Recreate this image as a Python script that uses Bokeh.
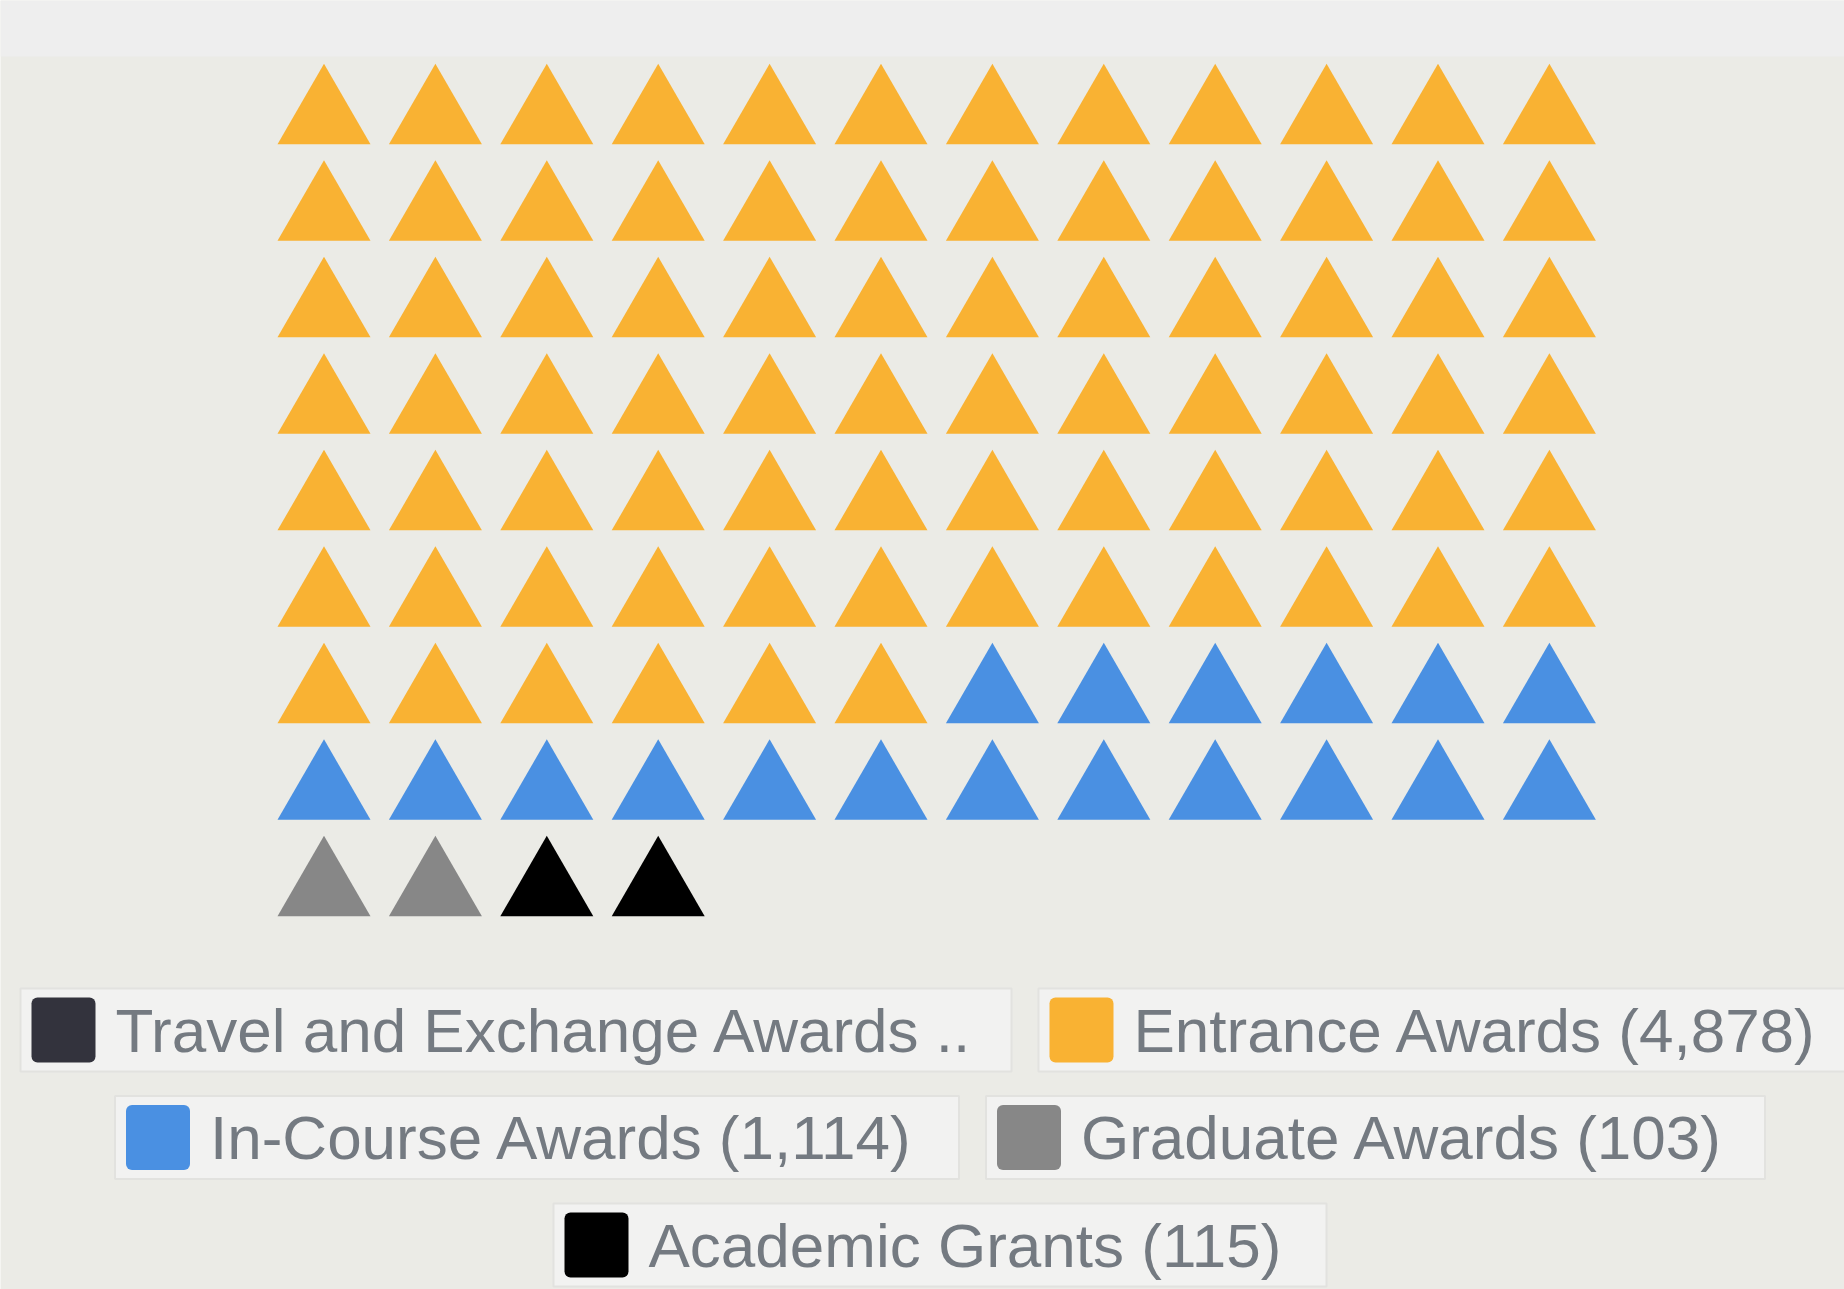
from bokeh.plotting import figure
from bokeh.models import Range1d, ColumnDataSource
from bokeh.core.properties import value
from bokeh.embed import file_html
from bokeh.resources import INLINE

# ---- data ----
categories = ["Travel and Exchange Awards", "Entrance Awards", "In-Course Awards",
              "Graduate Awards", "Academic Grants"]
legend_labels = ["Travel and Exchange Awards ..", "Entrance Awards (4,878)",
                 "In-Course Awards (1,114)", "Graduate Awards (103)", "Academic Grants (115)"]
award_counts = [None, 4878, 1114, 103, 115]
icon_counts = [0, 78, 18, 2, 2]
colors = ["#33333d", "#f9b233", "#4a90e2", "#878787", "#000000"]

# ---- layout (pixel space of the page) ----
W, H = 1844, 1289
OFF = 0
N_COLS = 12
X0, DX = 323.5, 111.4
Y0, DY = 117.0, 96.5
TRI_SIZE = 93

BG = "#ebebe6"
TOP_BG = "#eeeeee"
TEXT_COLOR = "#747a81"
BOX_FILL = "#f2f2f1"
BOX_LINE = "#e2e2df"

p = figure(width=W, height=H, output_backend="svg", toolbar_location=None,
           x_range=Range1d(OFF, OFF + W), y_range=Range1d(OFF + H, OFF),
           min_border=0, background_fill_color=BG, border_fill_color=BG)
p.axis.visible = False
p.grid.visible = False
p.outline_line_color = None

# lighter strip at the top
p.quad(left=[OFF], right=[OFF + W], top=[OFF], bottom=[56], fill_color=TOP_BG, line_color=None)

# ---- waffle of triangles ----
xs, ys, cs = [], [], []
idx = 0
for cat_i, n in enumerate(icon_counts):
    for _ in range(n):
        r, c = divmod(idx, N_COLS)
        xs.append(X0 + c * DX)
        ys.append(Y0 + r * DY)
        cs.append(colors[cat_i])
        idx += 1
src = ColumnDataSource(dict(x=xs, y=ys, color=cs))
p.scatter("x", "y", source=src, marker="triangle", size=TRI_SIZE,
          fill_color="color", line_color=None)

# ---- legend (flow of boxed items, centred rows) ----
legend_rows = [[0, 1], [2, 3], [4]]
box_widths = [991, 821, 844, 779, 773]
ROW_TOP0, ROW_PITCH, BOX_H = 988, 107.5, 83
CENTER_X, GAP = 939.5, 27
SW_PAD, SW_W, SW_H = 11, 64, 65
TEXT_PAD = 95
FONT_PX = 62

bl, br, bt, bb = [], [], [], []
sl, sr, st, sb, sc = [], [], [], [], []
tx, ty, tt = [], [], []
for ri, row in enumerate(legend_rows):
    total = sum(box_widths[i] for i in row) + GAP * (len(row) - 1)
    left = CENTER_X - total / 2
    top = ROW_TOP0 + ri * ROW_PITCH
    cy = top + BOX_H / 2
    for i in row:
        bl.append(left); br.append(left + box_widths[i])
        bt.append(top); bb.append(top + BOX_H)
        sl.append(left + SW_PAD); sr.append(left + SW_PAD + SW_W)
        st.append(cy - SW_H / 2); sb.append(cy + SW_H / 2); sc.append(colors[i])
        tx.append(left + TEXT_PAD); ty.append(cy); tt.append(legend_labels[i])
        left += box_widths[i] + GAP

p.quad(left=bl, right=br, top=bt, bottom=bb, fill_color=BOX_FILL,
       line_color=BOX_LINE, line_width=2)
p.quad(left=sl, right=sr, top=st, bottom=sb, fill_color=sc, line_color=None,
       border_radius=6)
p.text(x=tx, y=ty, text=tt, text_font=value("Liberation Sans"),
       text_font_size=f"{FONT_PX}px", text_color=TEXT_COLOR,
       text_baseline="alphabetic", text_align="left")

open("out.html", "w").write(file_html(p, INLINE))
